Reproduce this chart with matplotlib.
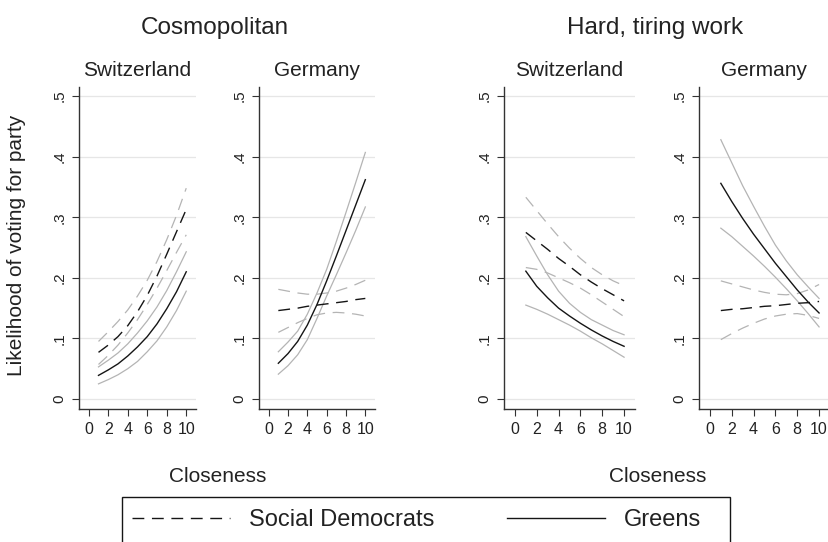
import matplotlib
matplotlib.use("Agg")
import matplotlib.pyplot as plt
from matplotlib.patches import Rectangle
from matplotlib.lines import Line2D

plt.rcParams["font.family"] = ["Liberation Sans", "DejaVu Sans"]
plt.rcParams["lines.scale_dashes"] = False

# ---------------------------------------------------------------- data
closeness = [1, 2, 3, 4, 5, 6, 7, 8, 9, 10]

# Cosmopolitan, Switzerland
cosmo_ch_sd    = [.077, .089, .103, .121, .144, .171, .203, .239, .276, .313]
cosmo_ch_sd_hi = [.095, .111, .128, .147, .170, .196, .227, .263, .303, .348]
cosmo_ch_sd_lo = [.057, .072, .089, .109, .131, .156, .183, .212, .242, .271]
cosmo_ch_gr    = [.039, .048, .058, .071, .086, .103, .124, .149, .177, .210]
cosmo_ch_gr_hi = [.053, .064, .076, .091, .109, .129, .152, .179, .210, .243]
cosmo_ch_gr_lo = [.025, .032, .040, .050, .062, .078, .096, .119, .146, .178]

# Cosmopolitan, Germany
cosmo_de_sd    = [.146, .148, .150, .153, .155, .157, .159, .161, .164, .166]
cosmo_de_sd_hi = [.181, .178, .175, .173, .173, .175, .178, .183, .189, .196]
cosmo_de_sd_lo = [.110, .118, .126, .133, .139, .142, .143, .142, .140, .137]
cosmo_de_gr    = [.059, .075, .095, .122, .156, .195, .236, .278, .320, .362]
cosmo_de_gr_hi = [.078, .094, .112, .140, .175, .214, .260, .308, .357, .407]
cosmo_de_gr_lo = [.041, .055, .073, .098, .133, .170, .205, .241, .278, .317]

# Hard, tiring work, Switzerland
hard_ch_sd    = [.275, .261, .247, .232, .219, .205, .193, .182, .172, .162]
hard_ch_sd_hi = [.333, .311, .289, .268, .249, .232, .217, .205, .195, .187]
hard_ch_sd_lo = [.217, .214, .208, .200, .192, .183, .172, .160, .148, .136]
hard_ch_gr    = [.211, .186, .167, .150, .137, .125, .114, .104, .095, .087]
hard_ch_gr_hi = [.268, .236, .205, .178, .158, .143, .131, .122, .113, .106]
hard_ch_gr_lo = [.155, .148, .140, .131, .122, .112, .101, .091, .080, .069]

# Hard, tiring work, Germany
hard_de_sd    = [.146, .148, .149, .151, .153, .154, .156, .158, .159, .161]
hard_de_sd_hi = [.195, .190, .185, .180, .176, .173, .172, .174, .180, .189]
hard_de_sd_lo = [.098, .108, .117, .125, .132, .137, .140, .141, .138, .133]
hard_de_gr    = [.356, .326, .298, .272, .248, .224, .202, .180, .160, .142]
hard_de_gr_hi = [.428, .390, .352, .318, .285, .254, .228, .205, .185, .166]
hard_de_gr_lo = [.282, .268, .252, .236, .219, .201, .182, .162, .141, .119]

y_ticks = [0, .1, .2, .3, .4, .5]
y_tick_labels = ["0", ".1", ".2", ".3", ".4", ".5"]
x_ticks = [0, 2, 4, 6, 8, 10]

panels = [
    ("Switzerland", cosmo_ch_sd, cosmo_ch_sd_lo, cosmo_ch_sd_hi,
     cosmo_ch_gr, cosmo_ch_gr_lo, cosmo_ch_gr_hi),
    ("Germany", cosmo_de_sd, cosmo_de_sd_lo, cosmo_de_sd_hi,
     cosmo_de_gr, cosmo_de_gr_lo, cosmo_de_gr_hi),
    ("Switzerland", hard_ch_sd, hard_ch_sd_lo, hard_ch_sd_hi,
     hard_ch_gr, hard_ch_gr_lo, hard_ch_gr_hi),
    ("Germany", hard_de_sd, hard_de_sd_lo, hard_de_sd_hi,
     hard_de_gr, hard_de_gr_lo, hard_de_gr_hi),
]

# ---------------------------------------------------------------- style
W, H = 829, 542
BLACK = "#151515"
GRAY = "#b4b4b4"
TXT = "#222222"
DASH = (0, (8.5, 5.5))

# axes boxes in pixels: left, right
boxes = [(79, 196), (259, 375), (504, 635), (699, 830)]
TOP, BOTTOM = 87, 409

fig = plt.figure(figsize=(W / 100, H / 100), dpi=100)

for (x0, x1), (name, sd, sd_lo, sd_hi, gr, gr_lo, gr_hi) in zip(boxes, panels):
    ax = fig.add_axes([x0 / W, 1 - BOTTOM / H, (x1 - x0) / W, (BOTTOM - TOP) / H])
    ax.plot(closeness, sd_hi, color=GRAY, lw=0.9, ls=DASH)
    ax.plot(closeness, sd_lo, color=GRAY, lw=0.9, ls=DASH)
    ax.plot(closeness, gr_hi, color=GRAY, lw=0.9)
    ax.plot(closeness, gr_lo, color=GRAY, lw=0.9)
    ax.plot(closeness, sd, color=BLACK, lw=1.0, ls=DASH)
    ax.plot(closeness, gr, color=BLACK, lw=1.0)

    ax.set_xlim(-1, 11)
    ax.set_ylim(-0.0165, 0.515)
    ax.set_xticks(x_ticks)
    ax.set_yticks(y_ticks)
    ax.set_yticklabels(y_tick_labels, rotation=90, va="center")
    ax.yaxis.grid(True, color="#e6e6e6", lw=0.9)
    ax.set_axisbelow(True)
    for s in ("top", "right"):
        ax.spines[s].set_visible(False)
    for s in ("left", "bottom"):
        ax.spines[s].set_color("#333333")
        ax.spines[s].set_linewidth(1.0)
    ax.tick_params(direction="out", length=5, width=0.8, color="#333333",
                   labelcolor=TXT)
    ax.tick_params(axis="x", pad=4, labelsize=11.5)
    ax.tick_params(axis="y", pad=4, labelsize=11)
    ax.text(0.5, 1.05, name, transform=ax.transAxes, ha="center", va="center",
            fontsize=15, color=TXT)

fig.text(215 / W, 1 - 28 / H, "Cosmopolitan", ha="center", va="center",
         fontsize=17.5, color=TXT)
fig.text(655 / W, 1 - 28 / H, "Hard, tiring work", ha="center", va="center",
         fontsize=17.5, color=TXT)
fig.text(17 / W, 1 - 245 / H, "Likelihood of voting for party", rotation=90,
         ha="center", va="center", fontsize=15, color=TXT)
fig.text(218 / W, 1 - 477 / H, "Closeness", ha="center", va="center",
         fontsize=15, color=TXT)
fig.text(658 / W, 1 - 477 / H, "Closeness", ha="center", va="center",
         fontsize=15, color=TXT)

# legend box runs off the bottom edge, as in the original
fig.patches.append(Rectangle((122 / W, -0.05), 608 / W, 0.05 + (1 - 497 / H),
                             transform=fig.transFigure, fill=False,
                             edgecolor=BLACK, lw=1.0, clip_on=False))
handles = [Line2D([], [], color=BLACK, lw=1.0, ls=DASH),
           Line2D([], [], color=BLACK, lw=1.0)]
fig.legend(handles, ["Social Democrats", "Greens"], ncol=2, frameon=False,
           loc="center left", bbox_to_anchor=(132 / W, 1 - 520 / H),
           borderpad=0, borderaxespad=0, handlelength=4.15,
           handletextpad=0.8, columnspacing=3.1, fontsize=17,
           labelcolor=TXT)

fig.savefig("out.png", dpi=100)
